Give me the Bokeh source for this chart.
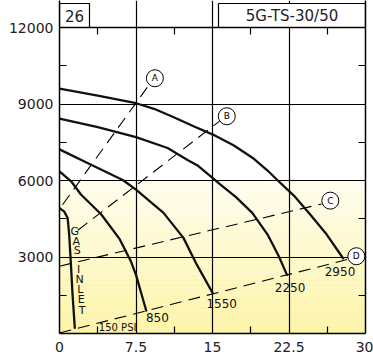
from bokeh.plotting import figure
from bokeh.models import Range1d, FixedTicker, LinearAxis
from bokeh.core.properties import value
from bokeh.embed import file_html
from bokeh.resources import INLINE

FONT = "DejaVu Sans"

# ---- axes / ticks ----
x_ticks = [0, 7.5, 15, 22.5, 30]
x_tick_labels = ["0", "7.5", "15", "22.5", "30"]
x_minor = [3.75, 11.25, 18.75, 26.25]
y_ticks = [3000, 6000, 9000, 12000]
y_tick_labels = ["3000", "6000", "9000", "12000"]
y_minor = [1500, 4500, 7500, 10500]
x_grid = [7.5, 15, 22.5]
y_grid = [3000, 6000, 9000]
y_max = 12000

# ---- performance curves (solid) ----
curve_850_x = [0, 1.14, 2.1, 4.1, 5.9, 7.0, 7.5, 8.0, 8.5]
curve_850_y = [6360, 5970, 5450, 4665, 3700, 2830, 2300, 1600, 900]
curve_1550_x = [0, 3.1, 6.2, 7.5, 10.2, 12.15, 13.45, 15.0]
curve_1550_y = [7220, 6620, 6020, 5640, 4730, 3750, 2710, 1600]
curve_2250_x = [0, 3.75, 7.5, 10.6, 12.55, 13.5, 15.0, 15.6, 17.3, 18.9, 20.4, 21.5, 22.3]
curve_2250_y = [8430, 8090, 7700, 7275, 6800, 6600, 6100, 5900, 5350, 4730, 3880, 3030, 2300]
curve_2950_x = [0, 3.75, 7.5, 9.27, 11.2, 13.2, 15.04, 17.1, 19.06, 20.4, 21.4, 23, 24.6, 26.2, 27.8]
curve_2950_y = [9600, 9330, 9030, 8812, 8482, 8118, 7800, 7372, 6850, 6392, 6000, 5400, 4660, 3880, 2950]
gas_inlet_x = [0, 0.45, 0.8, 0.95, 1.12, 1.28, 1.5]
gas_inlet_y = [4910, 4790, 4530, 3880, 2700, 1530, 220]

curves_x = [curve_850_x, curve_1550_x, curve_2250_x, curve_2950_x, gas_inlet_x]
curves_y = [curve_850_y, curve_1550_y, curve_2250_y, curve_2950_y, gas_inlet_y]

# ---- reference lines (dashed) A..D ----
line_a_x = [0.3, 8.6]
line_a_y = [5050, 9650]
line_b_x = [1.8, 15.7]
line_b_y = [4050, 8330]
line_c_x = [0, 25.7]
line_c_y = [2640, 5080]
line_d_x = [0, 28.2]
line_d_y = [20, 2900]

# ---- circle tags ----
tag_letters = ["A", "B", "C", "D"]
tag_x = [9.35, 16.4, 26.55, 29.1]
tag_y = [10010, 8520, 5210, 3030]

# ---- curve end labels ----
end_labels = ["850", "1550", "2250", "2950"]
end_label_x = [9.6, 15.9, 22.6, 27.5]
end_label_y = [610, 1160, 1790, 2440]
psi_label = "150 PSI"
psi_x = 5.7
psi_y = 240

# ---- GAS INLET vertical text ----
gas_letters = ["G", "A", "S", "I", "N", "L", "E", "T"]
gas_letter_x = [1.5, 1.65, 1.75, 1.88, 1.98, 2.05, 2.14, 2.21]
gas_letter_y = [4000, 3610, 3240, 2520, 2100, 1740, 1350, 910]

chart_number = "26"
chart_title = "5G-TS-30/50"

# layout constants (pixels)
W, H = 373, 364
BL, BR, BB = 59, 8, 31
HEADER_PX = 27
frame_h = H - BB
px_per_unit_y = (frame_h - HEADER_PX) / y_max
y_top = y_max + HEADER_PX / px_per_unit_y
px_per_unit_x = (W - BL - BR) / 30.0
box_top = y_max + (HEADER_PX - 3) / px_per_unit_y
num_box_right = 30 / px_per_unit_x
title_box_left = 30 - 147 / px_per_unit_x

p = figure(width=W, height=H, output_backend="svg", toolbar_location=None,
           x_range=Range1d(0, 30), y_range=Range1d(0, y_top),
           min_border_left=BL, min_border_right=BR, min_border_top=0, min_border_bottom=BB)
p.background_fill_color = "white"
p.border_fill_color = "white"
p.outline_line_color = None

# background gradient (white -> pale yellow below 6000)
n = 60
top_c = (255, 253, 238)
bot_c = (252, 243, 162)
bottoms, tops, cols = [], [], []
for i in range(n):
    b = 6000 * i / n
    t = 6000 * (i + 1) / n
    f = (i + 0.5) / n
    c = tuple(int(round(bot_c[k] + (top_c[k] - bot_c[k]) * f)) for k in range(3))
    bottoms.append(b)
    tops.append(t)
    cols.append("#%02x%02x%02x" % c)
p.quad(left=0, right=30, bottom=bottoms, top=tops, fill_color=cols, line_color=None, level="image")

# grid
p.xgrid.ticker = FixedTicker(ticks=x_grid)
p.ygrid.ticker = FixedTicker(ticks=y_grid)
p.xgrid.bounds = (0, y_max)
for g in (p.xgrid, p.ygrid):
    g.grid_line_color = "black"
    g.grid_line_width = 1.2
    g.grid_line_alpha = 1


def style_axis(ax):
    ax.axis_line_color = "black"
    ax.axis_line_width = 1.5
    ax.major_tick_in = 0
    ax.major_tick_out = 0
    ax.minor_tick_in = 7
    ax.minor_tick_out = 0
    ax.minor_tick_line_color = "black"
    ax.minor_tick_line_width = 1.2
    ax.major_label_text_font = FONT
    ax.major_label_text_font_size = "14px"
    ax.major_label_text_color = "#222222"


p.xaxis.ticker = FixedTicker(ticks=x_ticks, minor_ticks=x_minor)
p.xaxis.major_label_overrides = {t: l for t, l in zip(x_ticks, x_tick_labels)}
p.xaxis.major_label_standoff = 8
p.yaxis.ticker = FixedTicker(ticks=y_ticks, minor_ticks=y_minor)
p.yaxis.major_label_overrides = {t: l for t, l in zip(y_ticks, y_tick_labels)}
p.yaxis.major_label_standoff = 6
style_axis(p.xaxis[0])
style_axis(p.yaxis[0])

top_ax = LinearAxis(ticker=FixedTicker(ticks=[], minor_ticks=x_minor), fixed_location=y_max)
right_ax = LinearAxis(ticker=FixedTicker(ticks=[], minor_ticks=y_minor))
style_axis(top_ax)
style_axis(right_ax)
p.add_layout(top_ax, "above")
p.add_layout(right_ax, "right")

# header boxes
p.quad(left=[0, title_box_left], right=[num_box_right, 30], bottom=[y_max, y_max],
       top=[box_top, box_top], fill_color="white", line_color="black", line_width=1.2)
p.text([num_box_right / 2, (title_box_left + 30) / 2], [(y_max + box_top) / 2] * 2,
       text=[chart_number, chart_title], text_font=value(FONT), text_font_size="15px",
       text_align="center", text_baseline="middle", text_color="#222222")

# dashed reference lines
for lx, ly in [(line_a_x, line_a_y), (line_b_x, line_b_y), (line_c_x, line_c_y), (line_d_x, line_d_y)]:
    p.line(lx, ly, line_color="black", line_width=1.1, line_dash="12 7")

# curves
for cx, cy in zip(curves_x, curves_y):
    p.line(cx, cy, line_color="#111111", line_width=2.3, line_join="round", line_cap="round")

# circle tags
p.scatter(tag_x, tag_y, marker="circle", size=17, fill_color="white", line_color="black", line_width=1)
p.text(tag_x, tag_y, text=tag_letters, text_font=value(FONT), text_font_size="9px",
       text_align="center", text_baseline="middle", text_color="black")

# end labels
p.text(end_label_x, end_label_y, text=end_labels, text_font=value(FONT), text_font_size="12px",
       text_align="center", text_baseline="middle", text_color="#111111")
p.text([psi_x], [psi_y], text=[psi_label], text_font=value(FONT), text_font_size="10px",
       text_align="center", text_baseline="middle", text_color="#111111")

# GAS INLET
p.text(gas_letter_x, gas_letter_y, text=gas_letters, text_font=value(FONT), text_font_size="11px",
       text_align="center", text_baseline="middle", text_color="#111111")

open("out.html", "w").write(file_html(p, INLINE))
